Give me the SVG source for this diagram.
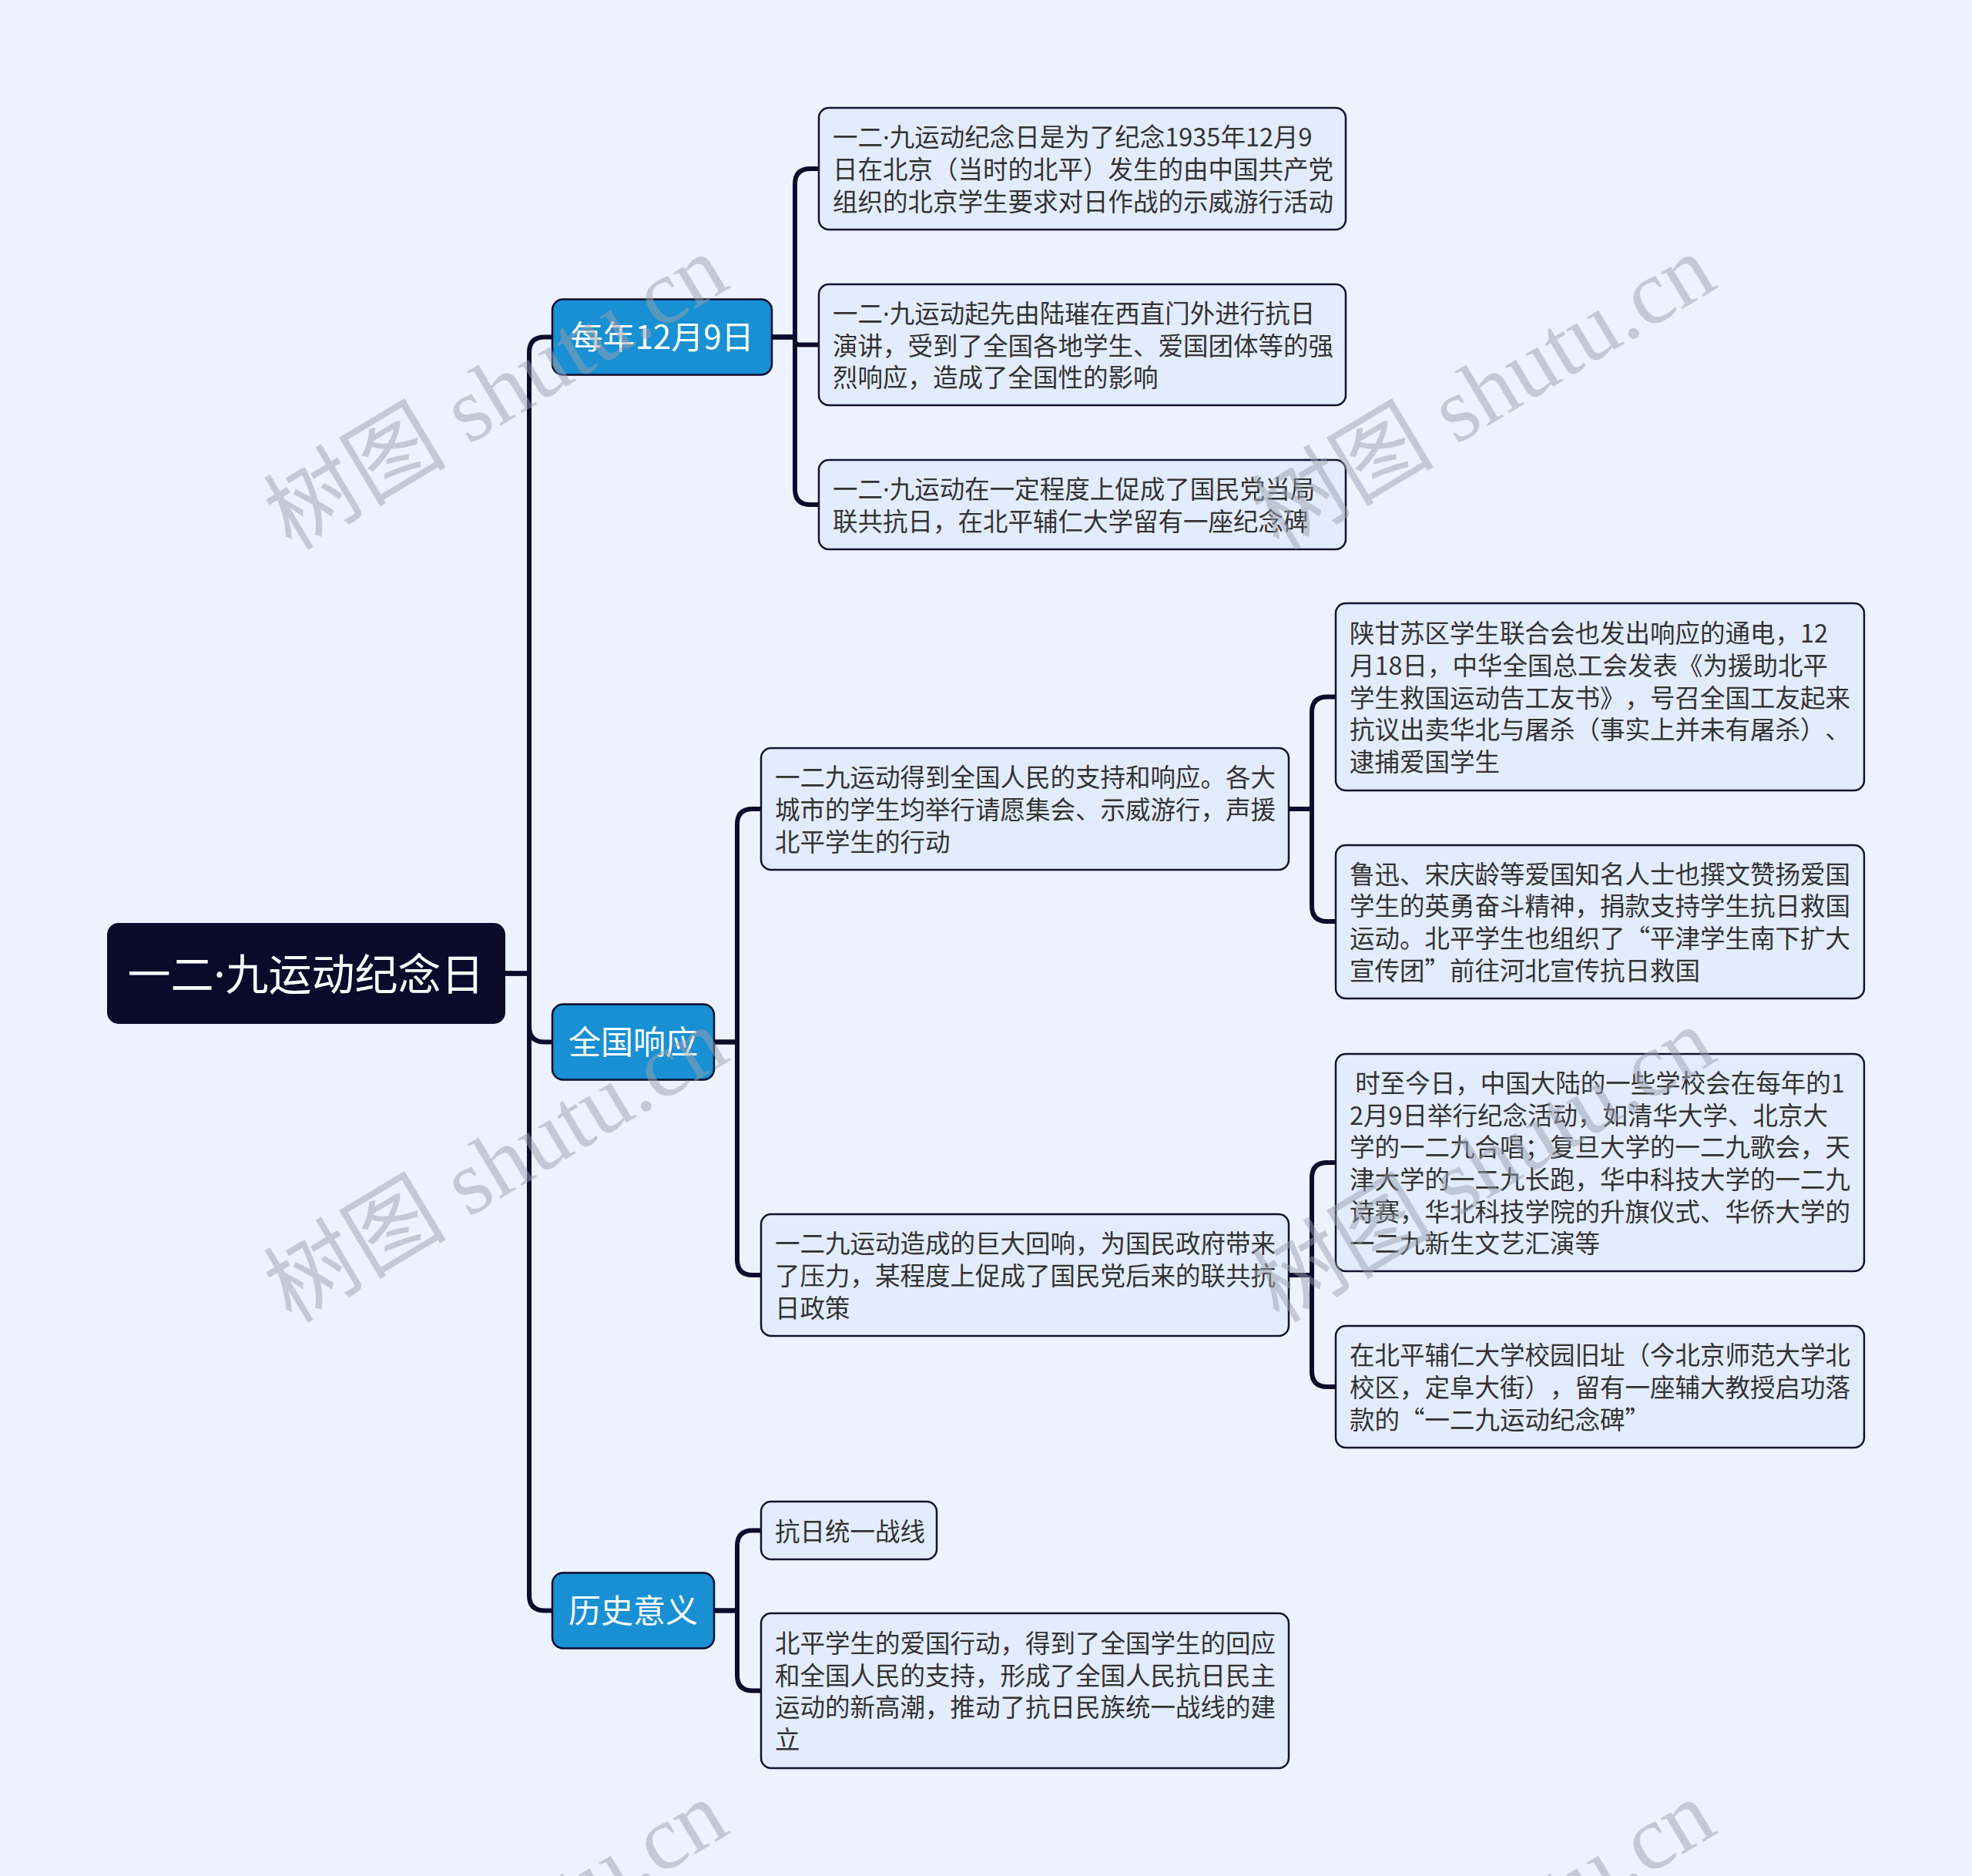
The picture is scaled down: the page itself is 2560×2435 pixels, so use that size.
<svg xmlns="http://www.w3.org/2000/svg" width="2560" height="2435" viewBox="0 0 2560 2435">
<style>
.bg{fill:#edf3fe}
.conn path{fill:none;stroke:#0d0b2c;stroke-width:6}
.root rect{fill:#0b0a2b}
text{text-spacing-trim:space-all}
.root text{font-family:"Noto Sans CJK SC","Noto Sans",sans-serif;font-size:56px;fill:#ffffff;text-anchor:middle}
.branch rect{fill:#1890d3;stroke:#0d0b2c;stroke-width:2.5}
.branch text{font-family:"Noto Sans CJK SC","Noto Sans",sans-serif;font-size:42px;fill:#ffffff;text-anchor:middle}
.leaf rect{fill:#e3ecfc;stroke:#14132f;stroke-width:2.5}
.leaf text{font-family:"Noto Sans CJK SC","Noto Sans",sans-serif;font-size:32.5px;fill:#333333}
.dot{font-family:"Noto Sans","Liberation Sans",sans-serif}
.wm text{font-family:"Liberation Serif","Noto Sans CJK SC",serif;font-size:119px;fill:#9aa0ad;fill-opacity:0.5;text-anchor:middle}
</style>
<rect class="bg" x="0" y="0" width="2560" height="2435"/>

<g id="connectors" class="conn">
<path d="M656 1263.5 H687 V457.5 Q687 437.5 707 437.5 H717"/>
<path d="M656 1263.5 H687 V1332.5 Q687 1352.5 707 1352.5 H717"/>
<path d="M656 1263.5 H687 V2070.5 Q687 2090.5 707 2090.5 H717"/>
<path d="M1002 437.5 H1032 V239 Q1032 219 1052 219 H1063"/>
<path d="M1002 437.5 H1032 V442.5 Q1032 447.5 1037 447.5 H1063"/>
<path d="M1002 437.5 H1032 V635 Q1032 655 1052 655 H1063"/>
<path d="M927 1352.5 H957 V1070 Q957 1050 977 1050 H988"/>
<path d="M927 1352.5 H957 V1635 Q957 1655 977 1655 H988"/>
<path d="M1673 1050 H1703 V924.5 Q1703 904.5 1723 904.5 H1734"/>
<path d="M1673 1050 H1703 V1176 Q1703 1196 1723 1196 H1734"/>
<path d="M1673 1655 H1703 V1529 Q1703 1509 1723 1509 H1734"/>
<path d="M1673 1655 H1703 V1780 Q1703 1800 1723 1800 H1734"/>
<path d="M927 2090.5 H957 V2006.5 Q957 1986.5 977 1986.5 H988"/>
<path d="M927 2090.5 H957 V2174.5 Q957 2194.5 977 2194.5 H988"/>
</g>

<g id="root" class="root">
<rect x="139" y="1198" width="517" height="131" rx="15"/>
<text x="397" y="1285">一二<tspan class="dot">·</tspan>九运动纪念日</text>
</g>

<g id="branch-1" class="branch">
<rect x="717" y="388.5" width="285" height="98" rx="14"/>
<text x="859.5" y="453">每年12月9日</text>
</g>
<g id="branch-2" class="branch">
<rect x="717" y="1303.5" width="210" height="98" rx="14"/>
<text x="822" y="1368">全国响应</text>
</g>
<g id="branch-3" class="branch">
<rect x="717" y="2041.5" width="210" height="98" rx="14"/>
<text x="822" y="2106">历史意义</text>
</g>

<g id="leaf-1" class="leaf">
<rect x="1063" y="140" width="684" height="158" rx="13"/>
<text x="1081" y="190.3"><tspan x="1081">一二<tspan class="dot">·</tspan>九运动纪念日是为了纪念1935年12月9</tspan><tspan x="1081" dy="41.7">日在北京（当时的北平）发生的由中国共产党</tspan><tspan x="1081" dy="41.7">组织的北京学生要求对日作战的示威游行活动</tspan></text>
</g>
<g id="leaf-2" class="leaf">
<rect x="1063" y="369" width="684" height="157" rx="13"/>
<text x="1081" y="418.8"><tspan x="1081">一二<tspan class="dot">·</tspan>九运动起先由陆璀在西直门外进行抗日</tspan><tspan x="1081" dy="41.7">演讲，受到了全国各地学生、爱国团体等的强</tspan><tspan x="1081" dy="41.7">烈响应，造成了全国性的影响</tspan></text>
</g>
<g id="leaf-3" class="leaf">
<rect x="1063" y="597" width="684" height="116" rx="13"/>
<text x="1081" y="647.2"><tspan x="1081">一二<tspan class="dot">·</tspan>九运动在一定程度上促成了国民党当局</tspan><tspan x="1081" dy="41.7">联共抗日，在北平辅仁大学留有一座纪念碑</tspan></text>
</g>

<g id="leaf-m1" class="leaf">
<rect x="988" y="971" width="685" height="158" rx="13"/>
<text x="1006" y="1021.3"><tspan x="1006">一二九运动得到全国人民的支持和响应。各大</tspan><tspan x="1006" dy="41.7">城市的学生均举行请愿集会、示威游行，声援</tspan><tspan x="1006" dy="41.7">北平学生的行动</tspan></text>
</g>
<g id="leaf-m2" class="leaf">
<rect x="988" y="1576" width="685" height="158" rx="13"/>
<text x="1006" y="1626.3"><tspan x="1006">一二九运动造成的巨大回响，为国民政府带来</tspan><tspan x="1006" dy="41.7">了压力，某程度上促成了国民党后来的联共抗</tspan><tspan x="1006" dy="41.7">日政策</tspan></text>
</g>

<g id="leaf-r1" class="leaf">
<rect x="1734" y="783" width="686" height="243" rx="13"/>
<text x="1752" y="834.1"><tspan x="1752">陕甘苏区学生联合会也发出响应的通电，12</tspan><tspan x="1752" dy="41.7">月18日，中华全国总工会发表《为援助北平</tspan><tspan x="1752" dy="41.7">学生救国运动告工友书》，号召全国工友起来</tspan><tspan x="1752" dy="41.7">抗议出卖华北与屠杀（事实上并未有屠杀）、</tspan><tspan x="1752" dy="41.7">逮捕爱国学生</tspan></text>
</g>
<g id="leaf-r2" class="leaf">
<rect x="1734" y="1097" width="686" height="199" rx="13"/>
<text x="1752" y="1146.5"><tspan x="1752">鲁迅、宋庆龄等爱国知名人士也撰文赞扬爱国</tspan><tspan x="1752" dy="41.7">学生的英勇奋斗精神，捐款支持学生抗日救国</tspan><tspan x="1752" dy="41.7">运动。北平学生也组织了“平津学生南下扩大</tspan><tspan x="1752" dy="41.7">宣传团”前往河北宣传抗日救国</tspan></text>
</g>
<g id="leaf-r3" class="leaf">
<rect x="1734" y="1368" width="686" height="282" rx="13"/>
<text x="1752" y="1417.8"><tspan x="1752">&#160;时至今日，中国大陆的一些学校会在每年的1</tspan><tspan x="1752" dy="41.7">2月9日举行纪念活动，如清华大学、北京大</tspan><tspan x="1752" dy="41.7">学的一二九合唱；复旦大学的一二九歌会，天</tspan><tspan x="1752" dy="41.7">津大学的一二九长跑，华中科技大学的一二九</tspan><tspan x="1752" dy="41.7">诗赛，华北科技学院的升旗仪式、华侨大学的</tspan><tspan x="1752" dy="41.7">一二九新生文艺汇演等</tspan></text>
</g>
<g id="leaf-r4" class="leaf">
<rect x="1734" y="1721" width="686" height="158" rx="13"/>
<text x="1752" y="1771.3"><tspan x="1752">在北平辅仁大学校园旧址（今北京师范大学北</tspan><tspan x="1752" dy="41.7">校区，定阜大街），留有一座辅大教授启功落</tspan><tspan x="1752" dy="41.7">款的“一二九运动纪念碑”</tspan></text>
</g>

<g id="leaf-h1" class="leaf">
<rect x="988" y="1949" width="228" height="75" rx="13"/>
<text x="1006" y="1999.5">抗日统一战线</text>
</g>
<g id="leaf-h2" class="leaf">
<rect x="988" y="2094" width="685" height="201" rx="13"/>
<text x="1006" y="2145"><tspan x="1006">北平学生的爱国行动，得到了全国学生的回应</tspan><tspan x="1006" dy="41.7">和全国人民的支持，形成了全国人民抗日民主</tspan><tspan x="1006" dy="41.7">运动的新高潮，推动了抗日民族统一战线的建</tspan><tspan x="1006" dy="41.7">立</tspan></text>
</g>

<g id="watermarks" class="wm">
<text transform="translate(643,508) rotate(-31)" dy="0.35em">树图 shutu.cn</text>
<text transform="translate(1925,508) rotate(-31)" dy="0.35em">树图 shutu.cn</text>
<text transform="translate(643,1511) rotate(-31)" dy="0.35em">树图 shutu.cn</text>
<text transform="translate(1925,1511) rotate(-31)" dy="0.35em">树图 shutu.cn</text>
<text transform="translate(643,2514) rotate(-31)" dy="0.35em">树图 shutu.cn</text>
<text transform="translate(1925,2514) rotate(-31)" dy="0.35em">树图 shutu.cn</text>
</g>
</svg>
